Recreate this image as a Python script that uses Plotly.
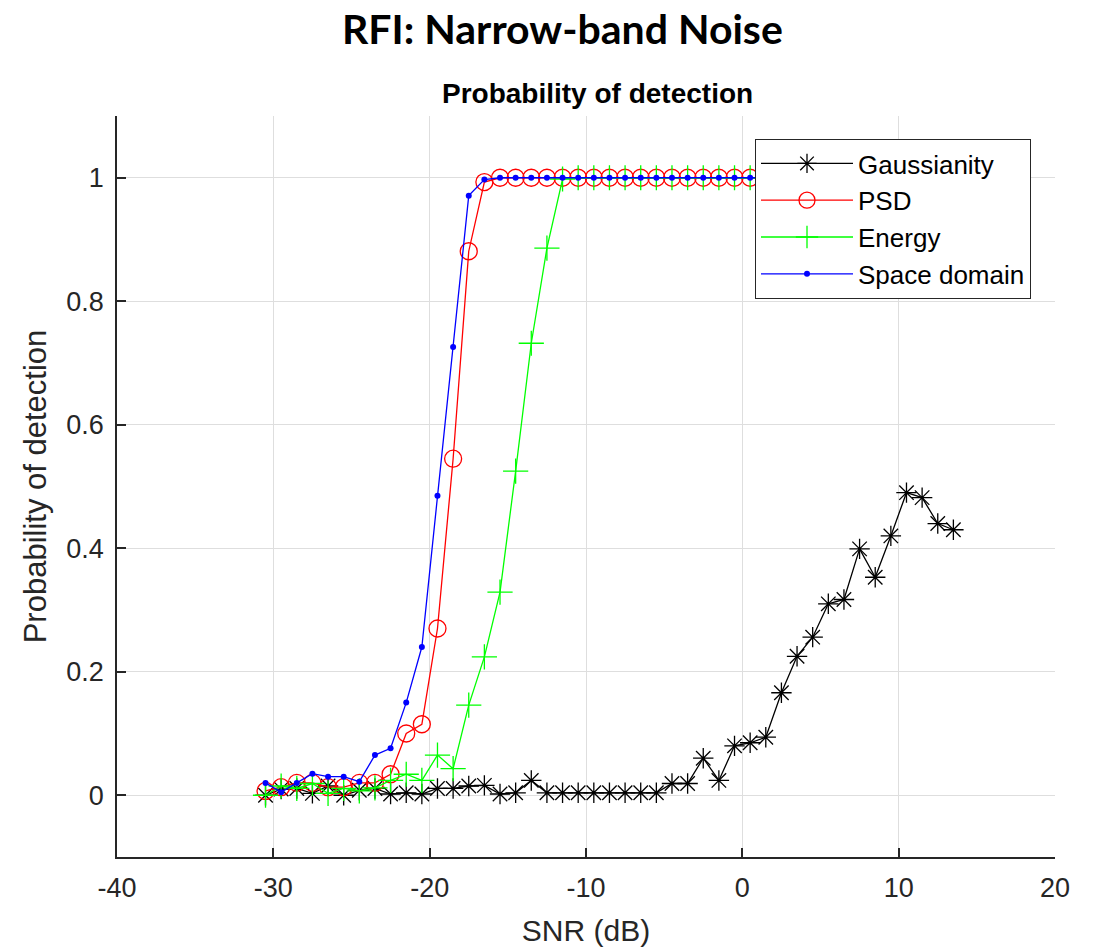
import plotly.graph_objects as go

# SNR grid (dB)
snr_db = [-30.5, -29.5, -28.5, -27.5, -26.5, -25.5, -24.5, -23.5, -22.5, -21.5,
          -20.5, -19.5, -18.5, -17.5, -16.5, -15.5, -14.5, -13.5, -12.5, -11.5,
          -10.5, -9.5, -8.5, -7.5, -6.5, -5.5, -4.5, -3.5, -2.5, -1.5,
          -0.5, 0.5, 1.5, 2.5, 3.5, 4.5, 5.5, 6.5, 7.5, 8.5,
          9.5, 10.5, 11.5, 12.5, 13.5]

pd_gaussianity = [0.0, 0.01, 0.011, 0.003, 0.015, 0.0, 0.008, 0.011, 0.002, 0.004,
                  0.002, 0.011, 0.011, 0.015, 0.016, 0.002, 0.004, 0.024, 0.004, 0.004,
                  0.004, 0.004, 0.004, 0.004, 0.004, 0.004, 0.019, 0.019, 0.06, 0.024,
                  0.08, 0.085, 0.094, 0.166, 0.225, 0.256, 0.31, 0.317, 0.399, 0.353,
                  0.42, 0.49, 0.482, 0.44, 0.43]

pd_psd = [0.007, 0.013, 0.02, 0.02, 0.013, 0.013, 0.02, 0.02, 0.034, 0.1,
          0.115, 0.27, 0.545, 0.881, 0.993, 1.0, 1.0, 1.0, 1.0, 1.0,
          1.0, 1.0, 1.0, 1.0, 1.0, 1.0, 1.0, 1.0, 1.0, 1.0,
          1.0, 1.0, 1.0, 1.0, 1.0, 1.0, 1.0, 1.0, 1.0, 1.0,
          1.0, 1.0, 1.0, 1.0, 1.0]

pd_energy = [0.0, 0.015, 0.011, 0.019, 0.003, 0.011, 0.007, 0.012, 0.024, 0.034,
             0.024, 0.065, 0.043, 0.146, 0.224, 0.329, 0.525, 0.732, 0.886, 0.998,
             1.0, 1.0, 1.0, 1.0, 1.0, 1.0, 1.0, 1.0, 1.0, 1.0,
             1.0, 1.0, 1.0, 1.0, 1.0, 1.0, 1.0, 1.0, 1.0, 1.0,
             1.0, 1.0, 1.0, 1.0, 1.0]

pd_space = [0.02, 0.005, 0.02, 0.035, 0.03, 0.03, 0.022, 0.065, 0.076, 0.15,
            0.24, 0.485, 0.726, 0.971, 0.997, 1.0, 1.0, 1.0, 1.0, 1.0,
            1.0, 1.0, 1.0, 1.0, 1.0, 1.0, 1.0, 1.0, 1.0, 1.0,
            1.0, 1.0, 1.0, 1.0, 1.0, 1.0, 1.0, 1.0, 1.0, 1.0,
            1.0, 1.0, 1.0, 1.0, 1.0]

x_ticks = [-40, -30, -20, -10, 0, 10, 20]
y_ticks = [0, 0.2, 0.4, 0.6, 0.8, 1]
y_tick_text = ["0", "0.2", "0.4", "0.6", "0.8", "1"]

W, H = 1096, 947
M_L, M_R, M_T, M_B = 117, 41, 116, 90
PW, PH = W - M_L - M_R, H - M_T - M_B


def px_x(px):
    return (px - M_L) / PW


def px_y(py):
    return (H - M_B - py) / PH


AX_FONT = "Liberation Sans, Arial, sans-serif"
LW = 1.3

fig = go.Figure()
fig.add_trace(go.Scatter(
    x=snr_db, y=pd_gaussianity, name="Gaussianity", mode="lines+markers",
    line=dict(color="#000000", width=LW),
    marker=dict(symbol="asterisk-open", size=17, color="#000000",
                line=dict(color="#000000", width=LW)),
))
fig.add_trace(go.Scatter(
    x=snr_db, y=pd_psd, name="PSD", mode="lines+markers",
    line=dict(color="#ff0000", width=LW),
    marker=dict(symbol="circle-open", size=17, color="#ff0000",
                line=dict(color="#ff0000", width=LW)),
))
fig.add_trace(go.Scatter(
    x=snr_db, y=pd_energy, name="Energy", mode="lines+markers",
    line=dict(color="#00ff00", width=LW),
    marker=dict(symbol="cross-thin-open", size=18, color="#00ff00",
                line=dict(color="#00ff00", width=LW)),
))
fig.add_trace(go.Scatter(
    x=snr_db, y=pd_space, name="Space domain", mode="lines+markers",
    line=dict(color="#0000ff", width=LW),
    marker=dict(symbol="circle", size=6, color="#0000ff"),
))

axis_common = dict(
    showgrid=True, gridcolor="#dedede", gridwidth=1,
    showline=True, linecolor="#262626", linewidth=1.5, mirror=False,
    ticks="inside", ticklen=9, tickwidth=1.5, tickcolor="#262626",
    tickfont=dict(family=AX_FONT, size=27, color="#262626"),
    zeroline=False, automargin=False,
)

fig.update_layout(
    width=W, height=H,
    margin=dict(l=M_L, r=M_R, t=M_T, b=M_B),
    paper_bgcolor="white", plot_bgcolor="white",
    showlegend=True,
    legend=dict(
        x=px_x(755), y=px_y(139), xanchor="left", yanchor="top",
        bgcolor="white", bordercolor="#262626", borderwidth=1,
        font=dict(family=AX_FONT, size=26, color="#000000"),
        itemwidth=92, tracegroupgap=0,
    ),
    xaxis=dict(
        range=[-40, 20], tickvals=x_ticks,
        ticktext=[str(v) for v in x_ticks],
        ticklabelstandoff=6,
        title=dict(text="SNR (dB)", font=dict(family=AX_FONT, size=30, color="#262626"),
                   standoff=18),
        **axis_common,
    ),
    yaxis=dict(
        range=[-0.1, 1.1], tickvals=y_ticks, ticktext=y_tick_text,
        title=dict(text="Probability of detection",
                   font=dict(family=AX_FONT, size=31, color="#262626"),
                   standoff=10),
        ticklabelstandoff=6,
        **axis_common,
    ),
    annotations=[
        dict(text="<b>RFI: Narrow-band Noise</b>", xref="paper", yref="paper",
             x=px_x(562), y=px_y(29), xanchor="center", yanchor="middle",
             showarrow=False, font=dict(family="Lato, Carlito, sans-serif", size=41,
                                        color="#000000")),
        dict(text="<b>Probability of detection</b>", xref="paper", yref="paper",
             x=px_x(597), y=px_y(93), xanchor="center", yanchor="middle",
             showarrow=False, font=dict(family=AX_FONT, size=28, color="#000000")),
    ],
)

fig.write_html("out.html")
